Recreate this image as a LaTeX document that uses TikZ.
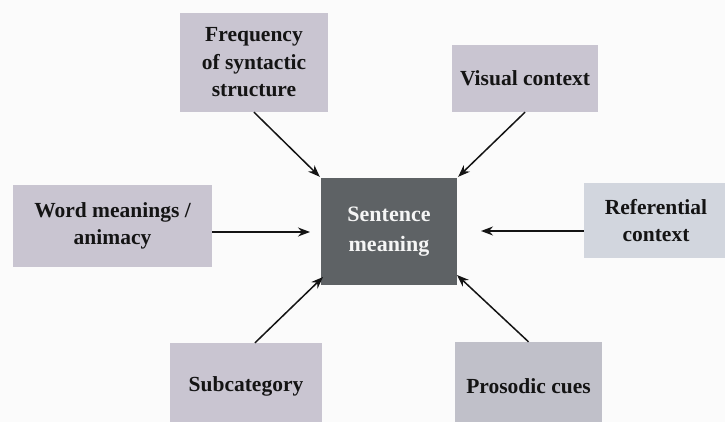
\documentclass[tikz,border=0pt]{standalone}
\usepackage{fontspec}
\setmainfont{Liberation Serif}
\usetikzlibrary{arrows.meta}
\definecolor{boxfill}{HTML}{C9C5D1}
\definecolor{reffill}{HTML}{D2D6DE}
\definecolor{prosfill}{HTML}{C0C0C9}
\definecolor{centerfill}{HTML}{5E6265}
\definecolor{inkc}{HTML}{141414}
\tikzset{
  x=1pt, y=-1pt,
  factorbox/.style={draw=none, fill=boxfill, inner sep=0pt, align=center,
    font=\fontsize{21.5}{27.5}\selectfont\bfseries, text=inkc},
  centerbox/.style={draw=none, fill=centerfill, inner sep=0pt, align=center,
    font=\fontsize{22}{30}\selectfont\bfseries, text=white!92!gray},
  arr/.style={draw=inkc, line width=1.5pt, -{Stealth[length=12pt,width=9pt]}}
}
\begin{document}
\begin{tikzpicture}
\useasboundingbox (0,0) rectangle (725,422);
\fill[white!97!gray] (0,0) rectangle (725,422);

\node[factorbox, minimum width=148pt, minimum height=99pt] (freq) at (254,62.5)
  {Frequency\\of syntactic\\structure};
\node[factorbox, minimum width=146pt, minimum height=67pt] (vis) at (525,78.5)
  {Visual context};
\node[centerbox, minimum width=136pt, minimum height=107pt] (sent) at (389,231.5)
  {Sentence\\meaning};
\node[factorbox, minimum width=199pt, minimum height=82pt] (word) at (112.5,226)
  {Word meanings /\\animacy};
\node[factorbox, fill=reffill, minimum width=144pt, minimum height=75pt] (ref) at (656,220.5)
  {Referential\\context};
\node[factorbox, minimum width=152pt, minimum height=87pt] (subc) at (246,386.5)
  {Subcategory};
\node[factorbox, fill=prosfill, minimum width=147pt, minimum height=88pt] (pros) at (528.5,386)
  {Prosodic cues};

\coordinate (wordtip) at (310,232);
\coordinate (reftip) at (481,231);
\coordinate (subtip) at (323,277);
\coordinate (prostip) at (457,275);

\draw[arr] (freq.south) -- ([xshift=-1pt,yshift=1pt]sent.north west);
\draw[arr] (vis.south) -- ([xshift=1pt,yshift=1pt]sent.north east);
\draw[arr] (word.east |- wordtip) -- (wordtip);
\draw[arr] (ref.west |- reftip) -- (reftip);
\draw[arr] ([xshift=9pt]subc.north) -- (subtip);
\draw[arr] (pros.north) -- (prostip);
\end{tikzpicture}
\end{document}
